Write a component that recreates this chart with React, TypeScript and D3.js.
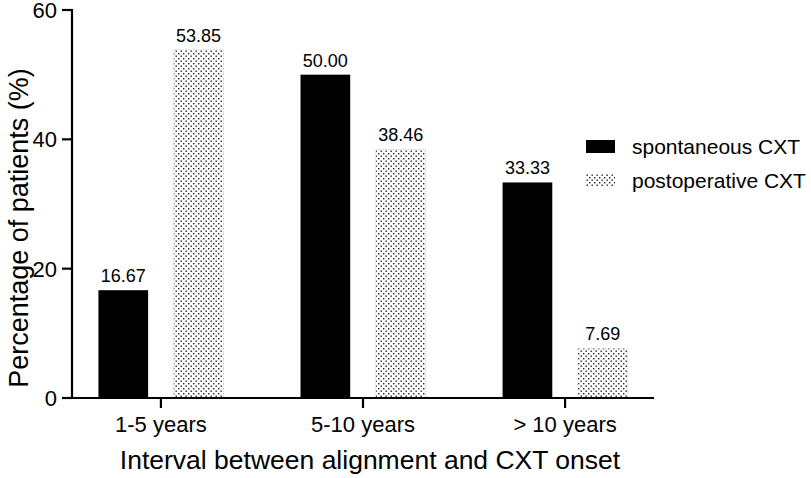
import React from 'react';
import * as d3 from 'd3';

const categories = ['1-5 years', '5-10 years', '> 10 years'];
const seriesNames = ['spontaneous CXT', 'postoperative CXT'];
const spontaneous = [16.67, 50.0, 33.33];
const postoperative = [53.85, 38.46, 7.69];
const yTicks = [0, 20, 40, 60];

const W = 811;
const H = 478;
const margin = {top: 10, right: 157, bottom: 80, left: 72};
const FONT = '"Liberation Sans", Arial, Helvetica, sans-serif';

const App: React.FC = () => {
    const innerRight = W - margin.right;
    const innerBottom = H - margin.bottom;

    const x = d3.scalePoint<string>()
        .domain(categories)
        .range([margin.left, innerRight])
        .padding(0.44);

    const inner = d3.scaleBand<string>()
        .domain(seriesNames)
        .range([-62.5, 62.5])
        .paddingInner(0.34);

    const y = d3.scaleLinear()
        .domain([0, 60])
        .range([innerBottom, margin.top]);

    const series = [spontaneous, postoperative];
    const fills = ['#000', 'url(#dots)'];

    return (
        <div style={{position: 'absolute', left: 0, top: 0}}>
            <svg width={W} height={H} style={{display: 'block', background: '#fff'}} fontFamily={FONT}>
                <defs>
                    <pattern id="dots" width={5} height={5} patternUnits="userSpaceOnUse">
                        <rect width={5} height={5} fill="#fff"/>
                        <rect x={0.5} y={0.5} width={1.4} height={1.4} fill="#222"/>
                        <rect x={3} y={3} width={1.4} height={1.4} fill="#222"/>
                    </pattern>
                </defs>

                {/* bars + value labels */}
                {categories.map((c, i) => (
                    <g key={c}>
                        {seriesNames.map((s, j) => {
                            const v = series[j][i];
                            const bx = (x(c) ?? 0) + (inner(s) ?? 0);
                            return (
                                <g key={s}>
                                    <rect x={bx} y={y(v)} width={inner.bandwidth()}
                                          height={y(0) - y(v)} fill={fills[j]}
                                          stroke={j === 1 ? '#ddd' : 'none'} strokeWidth={0.6}/>
                                    <text x={bx + inner.bandwidth() / 2} y={y(v) - 8}
                                          textAnchor="middle" fontSize={18}>{v.toFixed(2)}</text>
                                </g>
                            );
                        })}
                    </g>
                ))}

                {/* y axis */}
                <line x1={margin.left} x2={margin.left} y1={margin.top - 1} y2={innerBottom + 1}
                      stroke="#000" strokeWidth={2.2}/>
                {yTicks.map(t => (
                    <g key={t}>
                        <line x1={margin.left - 10} x2={margin.left} y1={y(t)} y2={y(t)}
                              stroke="#000" strokeWidth={2.2}/>
                        <text x={margin.left - 15} y={y(t)} dy="0.36em" textAnchor="end"
                              fontSize={22}>{t}</text>
                    </g>
                ))}

                {/* x axis */}
                <line x1={margin.left - 1} x2={innerRight} y1={innerBottom} y2={innerBottom}
                      stroke="#000" strokeWidth={2.2}/>
                {categories.map(c => (
                    <g key={c}>
                        <line x1={x(c)} x2={x(c)} y1={innerBottom} y2={innerBottom + 10}
                              stroke="#000" strokeWidth={2.2}/>
                        <text x={x(c)} y={innerBottom + 34} textAnchor="middle" fontSize={22}>{c}</text>
                    </g>
                ))}

                {/* axis titles */}
                <text x={(margin.left + innerRight) / 2 + 7} y={469} textAnchor="middle" fontSize={26.5}>
                    Interval between alignment and CXT onset
                </text>
                <text transform={`translate(28,${(margin.top + innerBottom) / 2 + 24}) rotate(-90)`}
                      textAnchor="middle" fontSize={27}>Percentage of patients (%)</text>

                {/* legend */}
                {seriesNames.map((s, j) => (
                    <g key={s} transform={`translate(586,${140 + j * 34})`}>
                        <rect width={29} height={13} fill={fills[j]}/>
                        <text x={46} y={14} fontSize={21}>{s}</text>
                    </g>
                ))}
            </svg>
        </div>
    );
};

export default App;
